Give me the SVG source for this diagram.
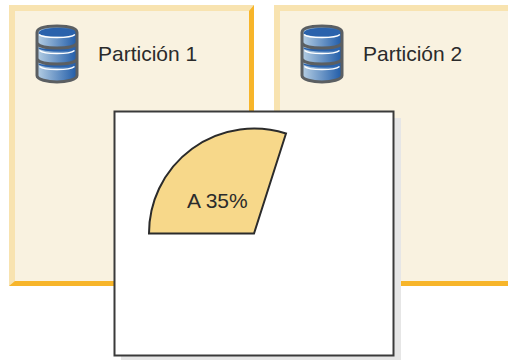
<svg xmlns="http://www.w3.org/2000/svg" width="508" height="360" viewBox="0 0 508 360">
<style>
.t{font-family:"Liberation Sans",Arial,sans-serif;font-size:21px;fill:#2b2b2b}
.panel{fill:#f9f2e0}.lt{fill:#f8e3b0}.dk{fill:#f7b52a}
.body{fill:url(#g)}
.cap{fill:#2a62ac}
.wl{fill:none;stroke:#fff;stroke-width:1.500}
.ol{fill:none;stroke:#5b5f62;stroke-width:3}
</style>
<defs>
<linearGradient id="g" x1="0" x2="1" y1="0" y2="0"><stop offset="0" stop-color="#b6cfe4"/><stop offset="1" stop-color="#1f5ba8"/></linearGradient>
<g id="db">
<path class="body" d="M1.500 8C1.500 3 12 1.500 21.500 1.500S41.500 3 41.500 8V51C41.500 55 31 57.500 21.500 57.500S1.500 55 1.500 51Z"/>
<path class="cap" d="M3 9C3 5 12 3.500 21.500 3.500S40 5 40 9C38 13 5 13 3 9Z"/>
<path class="wl" d="M3.500 10C8 14 35 14 39.500 10"/>
<path class="cap" d="M3 24C8 28 35 28 40 24L40 23C35 25 8 25 3 23Z"/>
<path class="wl" d="M4 26C9 30 34 30 39 26"/>
<path class="cap" d="M3 40C8 44 35 44 40 40L40 39C35 41 8 41 3 39Z"/>
<path class="wl" d="M4 42C9 46 34 46 39 42"/>
<path class="ol" d="M1.500 8C1.500 3 12 1.500 21.500 1.500S41.500 3 41.500 8V51C41.500 55 31 57.500 21.500 57.500S1.500 55 1.500 51Z"/>
<path class="ol" d="M1.500 19C6 25 37 25 41.500 19M1.500 35C6 41 37 41 41.500 35"/>
</g>
</defs>
<rect width="508" height="360" fill="#fff"/>
<g id="particion-1">
<rect class="lt" x="9" y="5" width="245" height="281"/>
<path class="dk" d="M254 5V286H9L15 281H249V11Z"/>
<rect class="panel" x="15" y="11" width="234" height="270"/>
<use href="#db" x="35.500" y="24.500"/>
<text class="t" x="98" y="61">Partición 1</text>
</g>
<g id="particion-2">
<rect class="lt" x="274" y="5" width="234" height="281"/>
<path class="dk" d="M274 286L280 281H508V286Z"/>
<rect class="panel" x="280" y="11" width="228" height="270"/>
<use href="#db" x="300.500" y="24.500"/>
<text class="t" x="363" y="61">Partición 2</text>
</g>
<g id="grafico">
<rect x="121" y="118" width="280" height="242" fill="#e6e6e6"/>
<rect x="114.500" y="111.500" width="279" height="244" fill="#fff" stroke="#3a3a3a" stroke-width="2"/>
</g>
<g id="sector">
<path d="M149 233.500A105 105 0 0 1 286 133.500L254 233.500Z" fill="#f7d88a" stroke="#2b2b2b" stroke-width="2"/>
<text class="t" x="187" y="208">A 35%</text>
</g>
<g id="connectors"/>
</svg>
